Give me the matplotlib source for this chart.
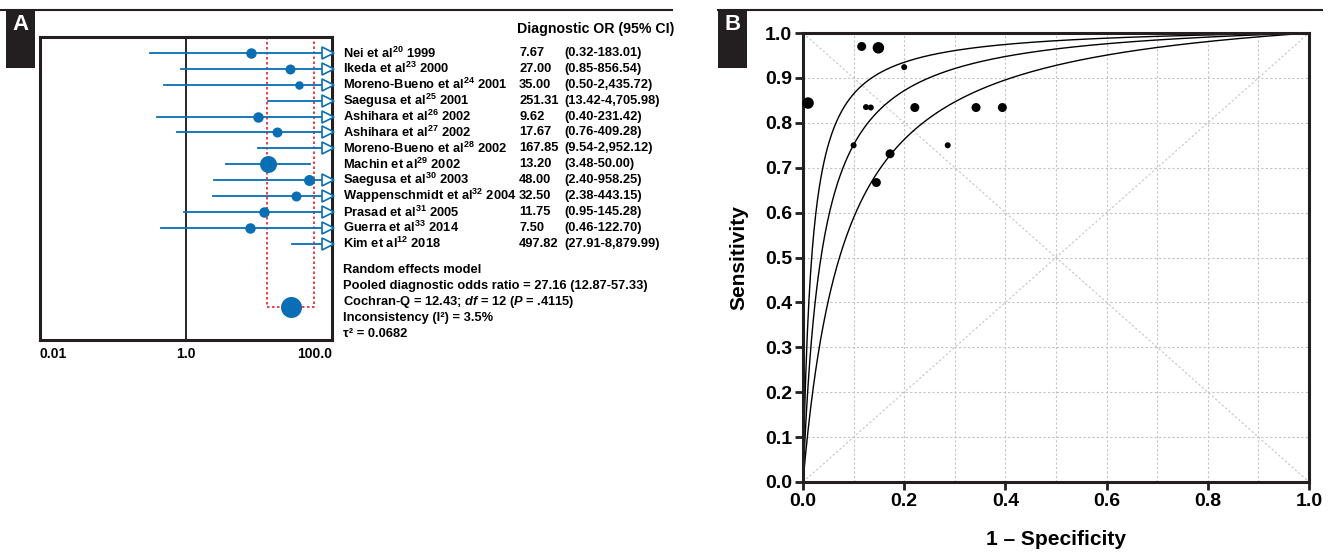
import numpy as np
import matplotlib
matplotlib.use("Agg")
import matplotlib.pyplot as plt
from matplotlib.patches import Rectangle
from matplotlib.lines import Line2D
import matplotlib.transforms as mtransforms

plt.rcParams['font.family'] = ['Liberation Sans', 'DejaVu Sans']
plt.rcParams['font.weight'] = 'bold'
plt.rcParams['mathtext.fontset'] = 'custom'
plt.rcParams['mathtext.rm'] = 'Liberation Sans:bold'
plt.rcParams['mathtext.it'] = 'Liberation Sans:italic:bold'
plt.rcParams['mathtext.bf'] = 'Liberation Sans:bold'

# panel A data (forest plot)
studies = ["Nei et al$^{20}$ 1999", "Ikeda et al$^{23}$ 2000", "Moreno-Bueno et al$^{24}$ 2001",
           "Saegusa et al$^{25}$ 2001", "Ashihara et al$^{26}$ 2002", "Ashihara et al$^{27}$ 2002",
           "Moreno-Bueno et al$^{28}$ 2002", "Machin et al$^{29}$ 2002", "Saegusa et al$^{30}$ 2003",
           "Wappenschmidt et al$^{32}$ 2004", "Prasad et al$^{31}$ 2005", "Guerra et al$^{33}$ 2014",
           "Kim et al$^{12}$ 2018"]
dor = [7.67, 27.00, 35.00, 251.31, 9.62, 17.67, 167.85, 13.20, 48.00, 32.50, 11.75, 7.50, 497.82]
ci_low = [0.32, 0.85, 0.50, 13.42, 0.40, 0.76, 9.54, 3.48, 2.40, 2.38, 0.95, 0.46, 27.91]
ci_high = [183.01, 856.54, 2435.72, 4705.98, 231.42, 409.28, 2952.12, 50.00, 958.25, 443.15,
           145.28, 122.70, 8879.99]
dor_text = ["7.67", "27.00", "35.00", "251.31", "9.62", "17.67", "167.85", "13.20", "48.00",
            "32.50", "11.75", "7.50", "497.82"]
ci_text = ["(0.32-183.01)", "(0.85-856.54)", "(0.50-2,435.72)", "(13.42-4,705.98)",
           "(0.40-231.42)", "(0.76-409.28)", "(9.54-2,952.12)", "(3.48-50.00)",
           "(2.40-958.25)", "(2.38-443.15)", "(0.95-145.28)", "(0.46-122.70)",
           "(27.91-8,879.99)"]
# marker diameter in pixels (study weight)
study_size = [10.5, 10, 8.5, 9, 10.5, 10, 9, 17, 11, 10, 10.5, 10.5, 9]
pooled = 27.16
pooled_low = 12.87
pooled_high = 57.33
pooled_size = 21
summary_lines = ["Random effects model",
                 "Pooled diagnostic odds ratio = 27.16 (12.87-57.33)",
                 "Cochran-Q = 12.43; $df$ = 12 ($P$ = .4115)",
                 "Inconsistency (I²) = 3.5%",
                 "τ² = 0.0682"]

# panel B data (SROC)
fpr = [0.010, 0.116, 0.149, 0.200, 0.1245, 0.134, 0.221, 0.342, 0.394, 0.100, 0.286, 0.172, 0.145]
sens = [0.844, 0.970, 0.967, 0.924, 0.835, 0.834, 0.834, 0.834, 0.834, 0.750, 0.750, 0.731, 0.667]
roc_size = [11.5, 9, 11.5, 6, 6, 6, 9, 9, 9, 6, 6, 9, 9]
sroc_dor = [pooled_high, pooled, pooled_low]

blue = '#0a6eb4'
dark = '#231f20'
W, H = 1334, 553

fig = plt.figure(figsize=(W / 100, H / 100), dpi=100)


def fx(px):
    return px / W


def fy(py):
    return 1 - py / H


# header rules and panel letters
for x0, x1, letter in [(0, 672, 'A'), (718, 1322, 'B')]:
    fig.add_artist(Line2D([fx(x0), fx(x1)], [fy(10), fy(10)], color=dark, lw=1.5))
    bx0 = 6 if letter == 'A' else 718
    fig.add_artist(Rectangle((fx(bx0), fy(68)), fx(29), 58 / H, color=dark, lw=0))
    fig.text(fx(bx0 + 14.5), fy(25), letter, color='white', fontsize=16, fontweight='bold',
             ha='center', va='center')

# ---- panel A
ax = fig.add_axes([fx(40), fy(340), fx(292), 303 / H])
ax.set_xscale('log')
ax.set_xlim(0.01, 100)
ax.set_ylim(18.05, -1)
n = len(studies)
rows = np.arange(n)
ax.axvline(1, color='black', lw=1.2, zorder=1)
arrow_x = 10 ** (2 - 0.06)
for i in range(n):
    hi = min(ci_high[i], arrow_x)
    ax.plot([ci_low[i], hi], [rows[i], rows[i]], color=blue, lw=1.3, zorder=2)
    if ci_high[i] > 100:
        ax.plot(arrow_x, rows[i], marker='>', ms=8.5, mfc='white', mec=blue, mew=1.2,
                zorder=3, clip_on=False)
    ax.plot(dor[i], rows[i], 'o', ms=study_size[i] / 1.389, color=blue, mec='none', zorder=4)

prow = n + 3
ax.plot([pooled_low, pooled_low, pooled_high, pooled_high], [-1, prow, prow, -1],
        color='#e8202a', ls=(0, (1.5, 1.5)), lw=1.2, zorder=1)
ax.plot(pooled, prow, 'o', ms=pooled_size / 1.389, color=blue, mec='none', zorder=4)

ax.set_yticks([])
ax.set_xticks([0.01, 1, 100])
ax.set_xticks([], minor=True)
ax.set_xticklabels(["0.01", "1.0", "100.0"], fontsize=10, fontweight='bold')
ax.tick_params(axis='x', length=0, pad=5)
for lab, ha in zip(ax.get_xticklabels(), ['left', 'center', 'right']):
    lab.set_ha(ha)
for s in ax.spines.values():
    s.set_linewidth(2.2)
    s.set_color(dark)

tr = mtransforms.blended_transform_factory(fig.transFigure, ax.transData)
fs = 9.3
ax.text(fx(517), -1.5, "Diagnostic OR (95% CI)", transform=tr, fontsize=10.2,
        fontweight='bold', va='center', ha='left')
for i in range(n):
    ax.text(fx(343), rows[i], studies[i], transform=tr, fontsize=fs, va='center', ha='left')
    ax.text(fx(519), rows[i], dor_text[i], transform=tr, fontsize=fs, va='center', ha='left')
    ax.text(fx(564), rows[i], ci_text[i], transform=tr, fontsize=fs, va='center', ha='left')
for j, line in enumerate(summary_lines):
    ax.text(fx(343), 13.65 + j, line, transform=tr, fontsize=fs, va='center', ha='left')

# ---- panel B
bx = fig.add_axes([fx(803), fy(482), fx(506), 449 / H])
bx.set_xlim(0, 1)
bx.set_ylim(0, 1)
grid_kw = dict(color='#c4c4c4', lw=0.8, ls=(0, (2, 2)), zorder=0)
for g in np.arange(0.1, 1.0, 0.1):
    bx.axvline(g, **grid_kw)
    bx.axhline(g, **grid_kw)
bx.plot([0, 1], [0, 1], **grid_kw)
bx.plot([0, 1], [1, 0], **grid_kw)

t = np.linspace(0, 1, 600)
for d in sroc_dor:
    bx.plot(t, d * t / (1 - t + d * t), color='black', lw=1.0, zorder=2)

bx.scatter(fpr, sens, s=(np.array(roc_size) / 1.389) ** 2, color='black', zorder=3,
           linewidths=0, clip_on=False)

bx.set_xticks(np.arange(0, 1.01, 0.2))
bx.set_yticks(np.arange(0, 1.01, 0.1))
bx.set_xticklabels([f"{v:.1f}" for v in np.arange(0, 1.01, 0.2)])
bx.set_yticklabels([f"{v:.1f}" for v in np.arange(0, 1.01, 0.1)])
bx.tick_params(direction='out', length=6, width=2, labelsize=14, color=dark, pad=2)
for lab in bx.get_xticklabels() + bx.get_yticklabels():
    lab.set_fontweight('bold')
for s in bx.spines.values():
    s.set_linewidth(2.2)
    s.set_color(dark)
bx.set_xlabel("1 – Specificity", fontsize=15, fontweight='bold', labelpad=14)
bx.set_ylabel("Sensitivity", fontsize=15, fontweight='bold', labelpad=12)

fig.savefig("out.png", dpi=100)
